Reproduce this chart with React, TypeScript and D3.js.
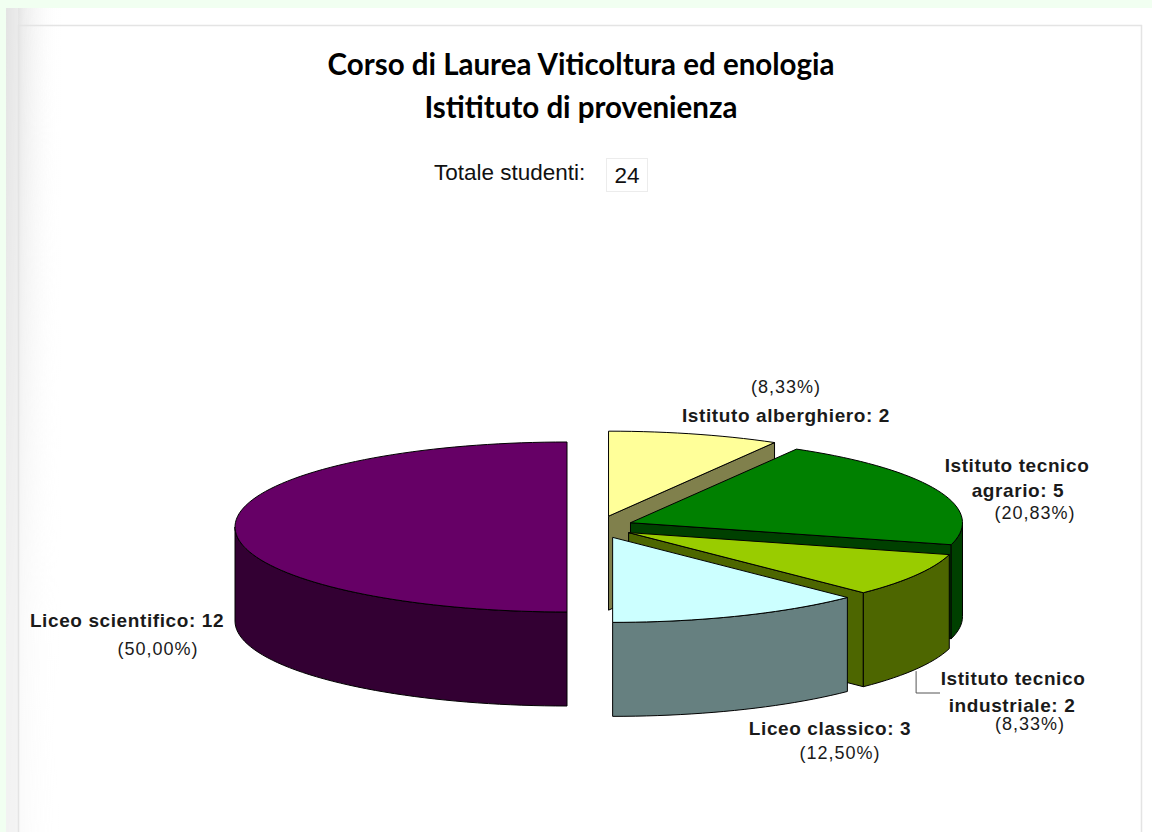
import React from "react";
import * as d3 from "d3";

// dati
const categories = [
  "Istituto alberghiero",
  "Istituto tecnico agrario",
  "Istituto tecnico industriale",
  "Liceo classico",
  "Liceo scientifico",
];
const students = [2, 5, 2, 3, 12];
const labelNames = [
  ["Istituto alberghiero"],
  ["Istituto tecnico", "agrario"],
  ["Istituto tecnico", "industriale"],
  ["Liceo classico"],
  ["Liceo scientifico"],
];
const titleLines = ["Corso di Laurea Viticoltura ed enologia", "Istitituto di provenienza"];
const totalLabel = "Totale studenti:";

const W = 1152;
const H = 832;

// colori (faccia superiore / lato)
const topFill = ["#FFFF99", "#008000", "#99CC00", "#CCFFFF", "#660066"];
const sideFill = ["#80804C", "#004000", "#4D6600", "#668080", "#330033"];

// geometria della torta 3D
const cx = 600;
const cy = 527;
const rx = 332;
const ry = 85;
const depth = 94;
const explode = 33;
const explodeY = 0.34;

// posizione delle etichette: [x, baseline] per ogni riga
const labelLayout = [
  [[786, 393], [786, 422]],
  [[1017, 472], [1018, 497], [1035, 519]],
  [[1013, 685], [1012, 712], [1030, 730]],
  [[830, 735], [840, 759]],
  [[127, 627], [158, 655]],
];

const total = d3.sum(students);
const pct = (v: number) => "(" + ((v / total) * 100).toFixed(2).replace(".", ",") + "%)";

const pie = d3
  .pie<number>()
  .sort(null)
  .value((d) => d)
  .startAngle(0)
  .endAngle(Math.PI * 2);

const line = d3.line();

function pt(t: number, ox: number, oy: number, dz: number): [number, number] {
  return [cx + ox + rx * Math.sin(t), cy + oy - ry * Math.cos(t) + dz];
}

function arcPts(a: number, b: number, ox: number, oy: number, dz: number) {
  const n = Math.max(2, Math.ceil(((b - a) / Math.PI) * 90));
  return d3.range(n + 1).map((i) => pt(a + ((b - a) * i) / n, ox, oy, dz));
}

const App = () => {
  const arcs = pie(students);

  const slices = arcs.map((d, i) => {
    const a = d.startAngle;
    const b = d.endAngle;
    const mid = (a + b) / 2;
    const ox = explode * Math.sin(mid);
    const oy = -explode * explodeY * Math.cos(mid);
    const c: [number, number] = [cx + ox, cy + oy];
    const cd: [number, number] = [cx + ox, cy + oy + depth];
    const shapes: { d: string; fill: string }[] = [];

    // pareti radiali
    if (Math.sin(a) < -1e-6) {
      shapes.push({ d: line([c, pt(a, ox, oy, 0), pt(a, ox, oy, depth), cd]) + "Z", fill: sideFill[i] });
    }
    if (Math.sin(b) > 1e-6) {
      shapes.push({ d: line([c, pt(b, ox, oy, 0), pt(b, ox, oy, depth), cd]) + "Z", fill: sideFill[i] });
    }
    // lato curvo
    const s0 = Math.max(a, Math.PI / 2);
    const s1 = Math.min(b, (Math.PI * 3) / 2);
    if (s1 > s0) {
      const topArc = arcPts(s0, s1, ox, oy, 0);
      const botArc = arcPts(s0, s1, ox, oy, depth).reverse();
      shapes.push({ d: line([...topArc, ...botArc]) + "Z", fill: sideFill[i] });
    }
    // faccia superiore
    shapes.push({ d: line([c, ...arcPts(a, b, ox, oy, 0)]) + "Z", fill: topFill[i] });

    return { i, mid, ox, oy, shapes, order: -Math.cos(mid) };
  });

  const drawOrder = [...slices].sort((p, q) => p.order - q.order);

  const labels = students.map((v, i) => {
    const names = labelNames[i].slice();
    names[names.length - 1] = names[names.length - 1] + ": " + v;
    const rows = names.map((t) => ({ t, bold: true }));
    if (i === 0) rows.unshift({ t: pct(v), bold: false });
    else rows.push({ t: pct(v), bold: false });
    return rows.map((r, j) => ({ ...r, x: labelLayout[i][j][0], y: labelLayout[i][j][1] }));
  });

  // linea guida per "Istituto tecnico industriale"
  const ind = slices[2];
  const leadStart = pt(ind.mid, ind.ox, ind.oy, depth);
  const leader = line([
    [leadStart[0], leadStart[1] + 2],
    [leadStart[0], 693],
    [940, 693],
  ]);

  return (
    <svg
      width={W}
      height={H}
      style={{ position: "absolute", left: 0, top: 0, display: "block" }}
      fontFamily="'Liberation Sans', Arial, sans-serif"
    >
      <defs>
        <linearGradient id="shade" x1="0" x2="1" y1="0" y2="0">
          <stop offset="0" stopColor="#cfcfcf" />
          <stop offset="0.3" stopColor="#ececec" />
          <stop offset="1" stopColor="#ffffff" stopOpacity="0" />
        </linearGradient>
        <linearGradient id="fadeV" x1="0" x2="0" y1="0" y2="1">
          <stop offset="0" stopColor="#fff" />
          <stop offset="0.75" stopColor="#fff" stopOpacity="0.25" />
          <stop offset="1" stopColor="#fff" stopOpacity="0.2" />
        </linearGradient>
        <mask id="fadeMask">
          <rect x={0} y={0} width={W} height={H} fill="url(#fadeV)" />
        </mask>
      </defs>

      <rect x={0} y={0} width={W} height={H} fill="#f1fff1" />
      <rect x={6} y={8} width={W - 6} height={H - 8} fill="#ffffff" />
      <rect x={6} y={8} width={56} height={H - 8} fill="url(#shade)" mask="url(#fadeMask)" />
      <rect x={6} y={8} width={12} height={H - 8} fill="#f0f0f0" opacity={0.6} />
      <path d={`M18.5,${H}V25.5H1141.5V${H}`} fill="none" stroke="#e4e4e4" strokeWidth={1.5} />

      {titleLines.map((t, i) => (
        <text
          key={t}
          x={581}
          y={75 + i * 43}
          textAnchor="middle"
          fontFamily="Lato, 'Open Sans', sans-serif"
          fontWeight={700}
          fontSize={29.5}
          fill="#000"
        >
          {t}
        </text>
      ))}

      <text x={434} y={180} fontSize={22.5} fill="#111">
        {totalLabel}
      </text>
      <rect x={606.5} y={158.5} width={41} height={33} fill="#fff" stroke="#ececec" />
      <text x={627} y={183} fontSize={22.5} textAnchor="middle" fill="#111">
        {total}
      </text>

      {drawOrder.map((s) => (
        <g key={categories[s.i]}>
          {s.shapes.map((sh, k) => (
            <path key={k} d={sh.d} fill={sh.fill} stroke="#000" strokeWidth={1} strokeLinejoin="round" />
          ))}
        </g>
      ))}

      <path d={leader ?? ""} fill="none" stroke="#555" strokeWidth={1} />

      {labels.map((rows, i) => (
        <g key={"l" + i}>
          {rows.map((r) => (
            <text
              key={r.t}
              x={r.x}
              y={r.y}
              textAnchor="middle"
              fontSize={r.bold ? 19 : 18}
              letterSpacing={r.bold ? 0.6 : 1}
              fontWeight={r.bold ? 700 : 400}
              fill="#1a1a1a"
            >
              {r.t}
            </text>
          ))}
        </g>
      ))}
    </svg>
  );
};

export default App;
